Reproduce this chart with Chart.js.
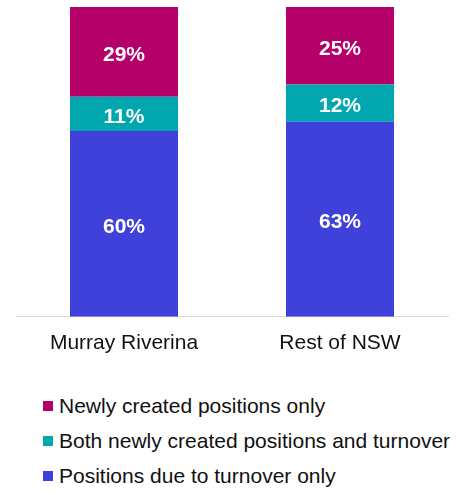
<!DOCTYPE html>
<html lang="en">
<head>
<meta charset="UTF-8" />
<title>Job vacancies by reason</title>
<script src="https://cdn.jsdelivr.net/npm/chart.js"></script>
<style>
  body { margin: 0; background: #fff; font-family: "Liberation Sans", Arial, sans-serif; }
  #wrap { position: relative; width: 469px; height: 494px; }
  #chartBox { position: absolute; left: 0; top: 0; width: 469px; height: 380px; }
  #legend { position: absolute; left: 43px; top: 388px; }
  .item { height: 35px; display: flex; align-items: center; font-size: 21px; color: #111; white-space: nowrap; }
  .item span.box { width: 10px; height: 10px; margin-right: 6px; display: inline-block; }
</style>
</head>
<body>
<div id="wrap">
  <div id="chartBox"><canvas id="chart"></canvas></div>
  <div id="legend"></div>
</div>
<script>
const regions = ['Murray Riverina', 'Rest of NSW'];
const turnoverOnly = [60, 63];
const bothNewAndTurnover = [11, 12];
const newOnly = [29, 25];

const seriesNames = ['Positions due to turnover only', 'Both newly created positions and turnover', 'Newly created positions only'];
const seriesColors = ['#4040DA', '#00A7AE', '#B5006A'];

// white % labels in the middle of each segment
const segmentLabels = {
  id: 'segmentLabels',
  afterDatasetsDraw(chart) {
    const ctx = chart.ctx;
    ctx.save();
    ctx.font = 'bold 21px "Liberation Sans", Arial, sans-serif';
    ctx.fillStyle = '#fff';
    ctx.textAlign = 'center';
    ctx.textBaseline = 'middle';
    chart.data.datasets.forEach((ds, i) => {
      chart.getDatasetMeta(i).data.forEach((bar, j) => {
        const p = bar.getProps(['x', 'y', 'base'], true);
        ctx.fillText(ds.data[j] + '%', p.x, (p.y + p.base) / 2 + 3);
      });
    });
    ctx.restore();
  }
};

const chart = new Chart(document.getElementById('chart'), {
  type: 'bar',
  data: {
    labels: regions,
    datasets: [
      { label: seriesNames[0], data: turnoverOnly, backgroundColor: seriesColors[0] },
      { label: seriesNames[1], data: bothNewAndTurnover, backgroundColor: seriesColors[1] },
      { label: seriesNames[2], data: newOnly, backgroundColor: seriesColors[2] }
    ]
  },
  options: {
    responsive: true,
    maintainAspectRatio: false,
    animation: false,
    layout: { padding: { left: 16, right: 21, top: 7, bottom: 10 } },
    datasets: { bar: { barPercentage: 0.5, categoryPercentage: 1 } },
    plugins: { legend: { display: false }, tooltip: { enabled: false } },
    scales: {
      x: {
        stacked: true,
        grid: { display: false, drawTicks: false },
        border: { display: true, color: '#d9d9d9', width: 1 },
        ticks: { color: '#111', padding: 14, font: { size: 21, family: '"Liberation Sans", Arial, sans-serif' } }
      },
      y: { stacked: true, display: false, min: 0, max: 100 }
    }
  },
  plugins: [segmentLabels]
});

// legend, newest series on top
const legend = document.getElementById('legend');
for (let i = seriesNames.length - 1; i >= 0; i--) {
  const row = document.createElement('div');
  row.className = 'item';
  row.innerHTML = '<span class="box" style="background:' + seriesColors[i] + '"></span>' + seriesNames[i];
  legend.appendChild(row);
}
</script>
</body>
</html>
